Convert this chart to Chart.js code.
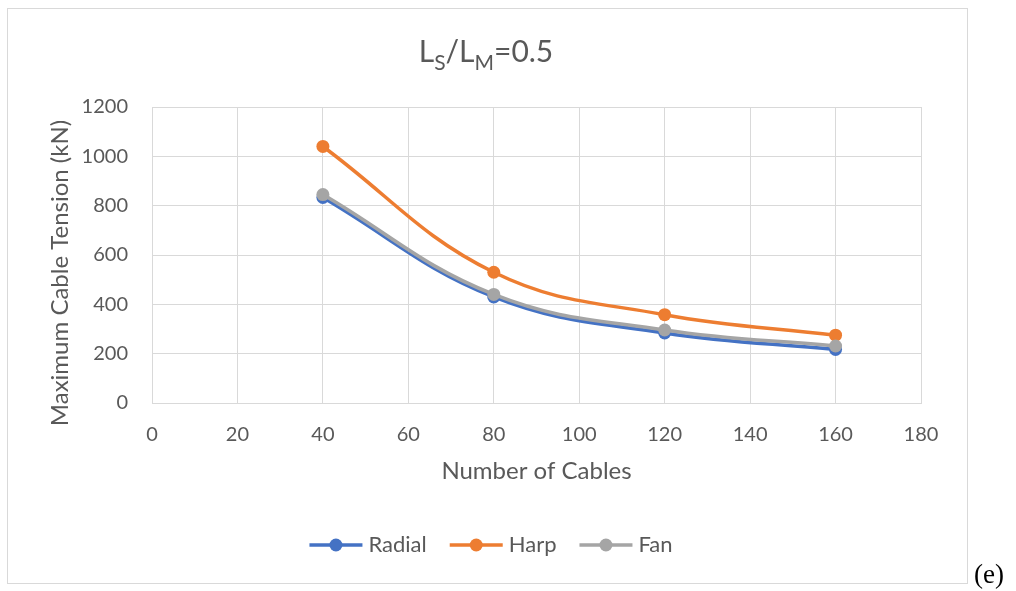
<!DOCTYPE html>
<html>
<head>
<meta charset="utf-8">
<script src="https://cdn.jsdelivr.net/npm/chart.js@4/dist/chart.umd.min.js"></script>
<style>
  html, body { margin: 0; padding: 0; background: #ffffff; }
  #wrap { position: relative; width: 1016px; height: 591px; overflow: hidden; }
  #c { position: absolute; left: 0; top: 0; }
  #tag { position: absolute; left: 974px; top: 560px; font: 27px/28px "Liberation Serif", "DejaVu Serif", serif; color: #000; }
</style>
</head>
<body>
<div id="wrap">
  <canvas id="c" width="1016" height="591"></canvas>
  <div id="tag">(e)</div>
</div>
<script>
// Number of cables on the x axis
const cableCounts = [40, 80, 120, 160];
// Maximum cable tension (kN) per cable arrangement
const radialTension = [833, 430, 284, 217];
const harpTension = [1040, 530, 358, 275];
const fanTension = [845, 440, 296, 231];
// Axis tick settings
const xTicks = { min: 0, max: 180, step: 20 };
const yTicks = { min: 0, max: 1200, step: 200 };

const TEXT = '#595959';
const GRID = '#D9D9D9';
const FONT = 'Lato, "Open Sans", sans-serif';

function points(values) {
  return cableCounts.map((x, i) => ({ x: x, y: values[i] }));
}

function series(label, values, color, order) {
  return {
    label: label,
    data: points(values),
    borderColor: color,
    backgroundColor: color,
    borderWidth: 3.5,
    pointRadius: 6.5,
    pointHoverRadius: 6.5,
    pointBorderWidth: 0,
    tension: 0.4,
    order: order
  };
}

// Frame, title, rotated y-axis title and the legend row
const decorations = {
  id: 'decorations',
  beforeDraw(chart) {
    const ctx = chart.ctx;
    ctx.save();
    ctx.fillStyle = '#ffffff';
    ctx.fillRect(0, 0, chart.width, chart.height);
    ctx.strokeStyle = GRID;
    ctx.lineWidth = 1;
    ctx.strokeRect(7.5, 8.5, 960, 575);
    ctx.restore();
  },
  afterDraw(chart) {
    const ctx = chart.ctx;
    ctx.save();
    ctx.fillStyle = TEXT;
    ctx.textBaseline = 'alphabetic';

    // Title: L_S / L_M = 0.5 with subscripts
    const big = '30px ' + FONT, small = '21px ' + FONT;
    const parts = [
      ['L', big, 0], ['S', small, 8], ['/L', big, 0], ['M', small, 8], ['=0.5', big, 0]
    ];
    let total = 0;
    parts.forEach(p => { ctx.font = p[1]; total += ctx.measureText(p[0]).width; });
    let x = 486 - total / 2;
    const base = 62;
    parts.forEach(p => {
      ctx.font = p[1];
      ctx.textAlign = 'left';
      ctx.fillText(p[0], x, base + p[2]);
      x += ctx.measureText(p[0]).width;
    });

    // Y-axis title
    ctx.save();
    ctx.translate(60, 273);
    ctx.rotate(-Math.PI / 2);
    ctx.font = '24px ' + FONT;
    ctx.textAlign = 'center';
    ctx.textBaseline = 'middle';
    ctx.fillText('Maximum Cable Tension (kN)', 0, 0);
    ctx.restore();

    // Legend: line with a dot, then the series name
    ctx.font = '22px ' + FONT;
    const lineLen = 53, gapText = 6, gapItem = 23, ly = 545;
    const items = chart.data.datasets.map(d => ({ d: d, w: ctx.measureText(d.label).width }));
    let width = 0;
    items.forEach((it, i) => { width += lineLen + gapText + it.w + (i ? gapItem : 0); });
    let lx = 491 - width / 2;
    items.forEach(it => {
      ctx.strokeStyle = it.d.borderColor;
      ctx.lineWidth = 3.5;
      ctx.beginPath();
      ctx.moveTo(lx, ly);
      ctx.lineTo(lx + lineLen, ly);
      ctx.stroke();
      ctx.fillStyle = it.d.borderColor;
      ctx.beginPath();
      ctx.arc(lx + lineLen / 2, ly, 6.5, 0, Math.PI * 2);
      ctx.fill();
      ctx.fillStyle = TEXT;
      ctx.textAlign = 'left';
      ctx.textBaseline = 'middle';
      ctx.fillText(it.d.label, lx + lineLen + gapText, ly);
      lx += lineLen + gapText + it.w + gapItem;
    });
    ctx.restore();
  }
};

new Chart(document.getElementById('c'), {
  type: 'line',
  data: {
    datasets: [
      series('Radial', radialTension, '#4472C4', 2),
      series('Harp', harpTension, '#ED7D31', 1),
      series('Fan', fanTension, '#A5A5A5', 0)
    ]
  },
  options: {
    responsive: false,
    animation: false,
    layout: { padding: { top: 107, right: 95, bottom: 105, left: 0 } },
    plugins: { legend: { display: false }, tooltip: { enabled: false }, title: { display: false } },
    scales: {
      x: {
        type: 'linear',
        min: xTicks.min, max: xTicks.max,
        ticks: { stepSize: xTicks.step, color: TEXT, font: { family: FONT, size: 20 }, padding: 20,
                 callback: v => String(v) },
        grid: { color: GRID, lineWidth: 1, drawTicks: false },
        border: { color: GRID },
        title: { display: true, text: 'Number of Cables', color: TEXT, font: { family: FONT, size: 24 }, padding: { top: 0, bottom: 0 } },
        afterFit(scale) { scale.height = 83; }
      },
      y: {
        type: 'linear',
        min: yTicks.min, max: yTicks.max,
        ticks: { stepSize: yTicks.step, color: TEXT, font: { family: FONT, size: 20 }, padding: 24,
                 callback: v => String(v) },
        grid: { color: GRID, lineWidth: 1, drawTicks: false },
        border: { color: GRID },
        afterFit(scale) { scale.width = 152; }
      }
    }
  },
  plugins: [decorations]
});
</script>
</body>
</html>
